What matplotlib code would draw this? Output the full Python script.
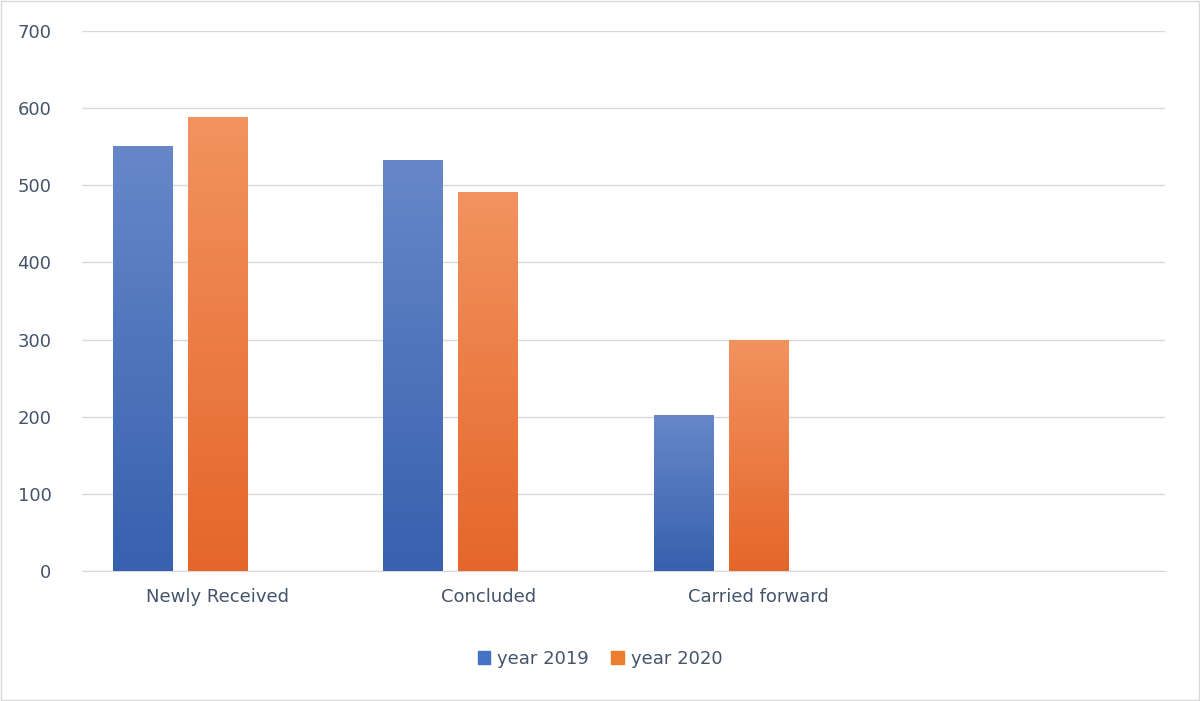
import matplotlib.pyplot as plt
import numpy as np
from matplotlib.colors import LinearSegmentedColormap

categories = ['Newly Received', 'Concluded', 'Carried forward', '']
year_2019 = [551, 533, 202]
year_2020 = [589, 491, 300]
yticks = [0, 100, 200, 300, 400, 500, 600, 700]

fig = plt.figure(figsize=(12, 7.01), dpi=100)
ax = fig.add_axes([82/1200, 1-571/701, (1165-82)/1200, (571-31)/701])
fig.patches.append(plt.Rectangle((0.001, 0.001), 0.998, 0.998, transform=fig.transFigure,
                                 fill=False, edgecolor='#d9d9d9', linewidth=1))

text_col = '#44546a'
blue = LinearSegmentedColormap.from_list('b', ['#3761ae', '#6787c9'])
orange = LinearSegmentedColormap.from_list('o', ['#e5662a', '#f2935f'])
grad = np.linspace(0, 1, 256).reshape(-1, 1)

w = 0.22
x = np.arange(len(categories))
for vals, off, cmap, solid in [(year_2019, -0.277, blue, '#4472c4'), (year_2020, 0.0, orange, '#ed7d31')]:
    bars = ax.bar(x[:len(vals)] + off, vals, width=w, color=solid, zorder=2)
    for b in bars:
        x0, y0, bw, bh = b.get_x(), b.get_y(), b.get_width(), b.get_height()
        im = ax.imshow(grad, extent=[x0, x0 + bw, y0, y0 + bh], origin='lower',
                       cmap=cmap, aspect='auto', zorder=3)
        im.set_clip_path(b)

ax.set_xlim(-0.5, len(categories) - 0.5)
ax.set_ylim(0, 700)
ax.set_yticks(yticks)
ax.set_xticks(x)
ax.set_xticklabels(categories)
ax.grid(axis='y', color='#d9d9d9', linewidth=1, zorder=0)
for s in ['top', 'right', 'left']:
    ax.spines[s].set_visible(False)
ax.spines['bottom'].set_color('#d9d9d9')
ax.tick_params(length=0, labelsize=13, colors=text_col, pad=12)
ax.tick_params(axis='y', pad=22)

h1 = plt.Rectangle((0, 0), 1, 1, color='#4472c4')
h2 = plt.Rectangle((0, 0), 1, 1, color='#ed7d31')
fig.legend([h1, h2], ['year 2019', 'year 2020'], loc='center', bbox_to_anchor=(0.5, 1-659/701),
           ncol=2, frameon=False, fontsize=13, labelcolor=text_col,
           handlelength=0.7, handleheight=0.7, columnspacing=1.2, handletextpad=0.4)

fig.savefig('out.png')
